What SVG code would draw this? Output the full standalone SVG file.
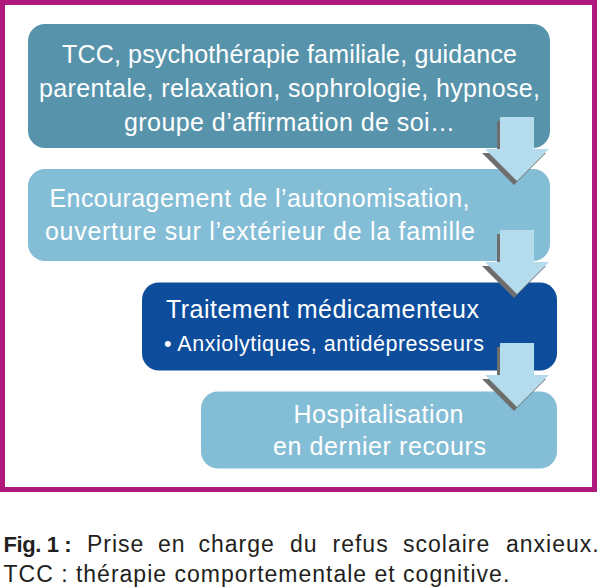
<svg xmlns="http://www.w3.org/2000/svg" width="600" height="588" viewBox="0 0 600 588">
  <defs>
    <style>
      .frame { fill: none; stroke: #b0197c; stroke-width: 5; }
      .b1 { fill: #5794ab; }
      .b2 { fill: #84bdd6; }
      .b3 { fill: #0d4d9b; }
      .t { font-family: "Liberation Sans", Arial, sans-serif; font-size: 25px; fill: #ffffff; text-anchor: middle; }
      .ts { font-size: 21.5px; }
      .cap { font-family: "Liberation Sans", Arial, sans-serif; font-size: 23px; fill: #231f20; letter-spacing: 1px; }
      .arrow { fill: #b5dcec; }
      .shadow { fill: #6e6e6e; }
    </style>
    <path id="arr" d="M-17,0 H17 V32 H32 L0,64 L-32,32 H-17 Z"/>
  </defs>

  <rect class="frame" x="2.5" y="2.5" width="592" height="487"/>

  <g id="node-therapies">
    <rect class="b1" x="28" y="24" width="522" height="124" rx="17"/>
    <text class="t" x="289.5" y="63" textLength="455">TCC, psychothérapie familiale, guidance</text>
    <text class="t" x="289.5" y="97" textLength="501">parentale, relaxation, sophrologie, hypnose,</text>
    <text class="t" x="289.5" y="131" textLength="331">groupe d’affirmation de soi…</text>
  </g>

  <g id="node-autonomisation">
    <rect class="b2" x="28" y="169" width="522" height="92" rx="17"/>
    <text class="t" x="259.5" y="207" textLength="420">Encouragement de l’autonomisation,</text>
    <text class="t" x="260" y="240" textLength="430">ouverture sur l’extérieur de la famille</text>
  </g>

  <g id="node-traitement">
    <rect class="b3" x="142" y="282.5" width="415" height="88" rx="17"/>
    <text class="t" x="322.5" y="318" textLength="313">Traitement médicamenteux</text>
    <text class="t ts" x="324" y="351" textLength="320">• Anxiolytiques, antidépresseurs</text>
  </g>

  <g id="node-hospitalisation">
    <rect class="b2" x="201" y="391.5" width="356" height="77" rx="17"/>
    <text class="t" x="378.5" y="423" textLength="170">Hospitalisation</text>
    <text class="t" x="379.5" y="455" textLength="213">en dernier recours</text>
  </g>

  <g id="connectors">
    <use href="#arr" class="shadow" transform="translate(514,121)"/>
    <use href="#arr" class="arrow" transform="translate(517,117)"/>
    <use href="#arr" class="shadow" transform="translate(514,234)"/>
    <use href="#arr" class="arrow" transform="translate(517,230)"/>
    <use href="#arr" class="shadow" transform="translate(514,347)"/>
    <use href="#arr" class="arrow" transform="translate(517,343)"/>
  </g>

  <g id="caption">
    <text class="cap" y="552"><tspan x="3.5" font-weight="bold" font-size="22" letter-spacing="-0.4">Fig. 1 :</tspan><tspan x="87">Prise</tspan><tspan x="158">en</tspan><tspan x="198.5">charge</tspan><tspan x="290">du</tspan><tspan x="332.5">refus</tspan><tspan x="403">scolaire</tspan><tspan x="506">anxieux.</tspan></text>
    <text class="cap" x="3.5" y="581.5">TCC : thérapie comportementale et cognitive.</text>
  </g>
</svg>
